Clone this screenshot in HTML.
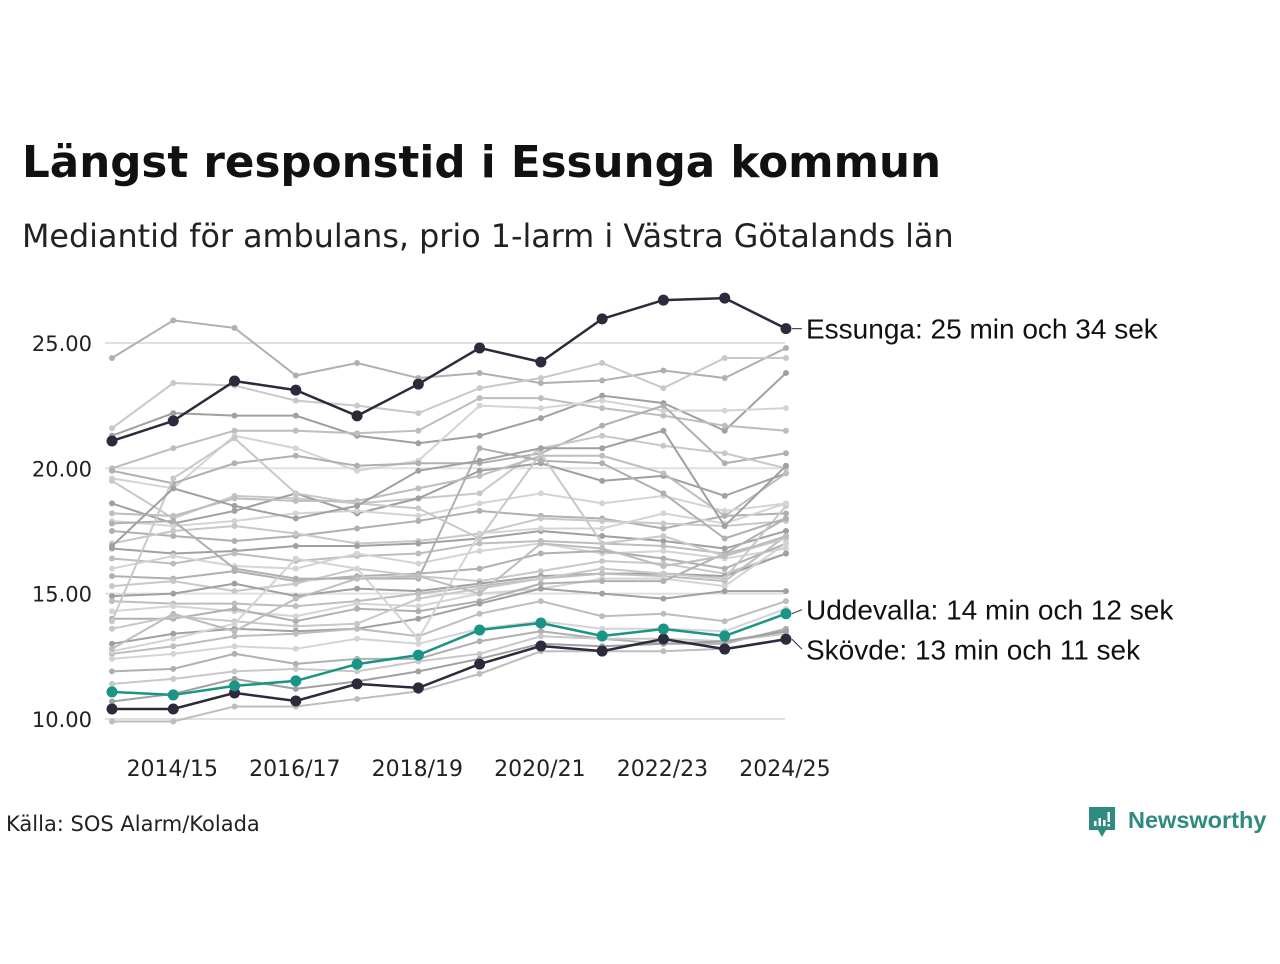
<!DOCTYPE html>
<html><head><meta charset="utf-8"><style>
body{margin:0;width:1280px;height:960px;background:#fff;font-family:"DejaVu Sans","Liberation Sans",sans-serif;overflow:hidden}
</style></head><body>
<svg id="c" width="1280" height="960" xmlns="http://www.w3.org/2000/svg">
<text x="22" y="177" font-size="43.6" font-weight="bold" fill="#111" font-family="DejaVu Sans, Liberation Sans, sans-serif">Längst responstid i Essunga kommun</text>
<text x="22" y="247" font-size="31.8" fill="#222" font-family="DejaVu Sans, Liberation Sans, sans-serif">Mediantid för ambulans, prio 1-larm i Västra Götalands län</text>
<g id="grid"></g><g id="grey"></g><g id="hl"></g><g id="ax"></g>
<text x="6" y="831" font-size="21" fill="#222">Källa: SOS Alarm/Kolada</text>
<g>
<path d="M1089 807h26v23h-9l-4 7l-4-7h-9z" fill="#2e8b7f"/>
<rect x="1094" y="821" width="2.5" height="5" fill="#fff"/><rect x="1098.5" y="818" width="2.5" height="8" fill="#fff"/><rect x="1103" y="820" width="2.5" height="6" fill="#fff"/><rect x="1107.5" y="812" width="2.5" height="10" fill="#fff"/><rect x="1107.5" y="824" width="2.5" height="2.5" fill="#fff"/>
<text x="1128" y="828" font-size="23.5" font-weight="bold" fill="#2e8b7f" font-family="Liberation Sans, sans-serif">Newsworthy</text>
</g>
</svg>
<script>
const categories=["2013/14","2014/15","2015/16","2016/17","2017/18","2018/19","2019/20","2020/21","2021/22","2022/23","2023/24","2024/25"];
const yTicks=[10,15,20,25];
const essunga=[21.09,21.89,23.48,23.12,22.09,23.36,24.8,24.24,25.96,26.71,26.79,25.57];
const uddevalla=[11.08,10.96,11.32,11.52,12.19,12.55,13.55,13.83,13.31,13.59,13.31,14.2];
const skovde=[10.4,10.4,11.04,10.72,11.4,11.24,12.19,12.91,12.71,13.19,12.79,13.18];
const others=[
[24.4,25.9,25.6,23.7,24.2,23.6,23.8,23.4,23.5,23.9,23.6,24.8],
[21.6,23.4,23.3,22.7,22.5,22.2,23.2,23.6,24.2,23.2,24.4,24.4],
[21.3,22.2,22.1,22.1,21.3,21.0,21.3,22.0,22.9,22.6,21.5,23.8],
[20.0,20.8,21.5,21.5,21.4,21.5,22.8,22.8,22.4,22.1,21.7,21.5],
[19.6,19.2,21.3,20.8,19.9,20.3,22.5,22.4,22.7,22.3,22.3,22.4],
[19.9,19.4,20.2,20.5,20.1,20.2,20.2,20.6,21.7,22.5,20.2,20.6],
[19.5,18.0,18.9,18.8,18.6,18.8,19.0,20.8,21.3,20.9,20.6,20.0],
[18.6,17.8,18.3,19.0,18.2,18.8,19.9,20.2,19.5,19.7,18.9,19.8],
[18.2,18.1,18.8,18.7,18.7,19.2,19.7,20.5,20.5,19.8,18.1,19.8],
[17.9,17.7,17.9,18.2,18.3,18.1,18.6,19.0,18.6,18.9,18.3,18.6],
[17.5,17.3,17.1,17.3,17.6,17.9,18.3,18.1,18.0,17.6,18.1,18.2],
[17.0,17.5,17.7,17.4,17.0,17.1,17.4,18.0,17.9,17.8,17.7,17.9],
[16.8,16.6,16.7,16.9,16.9,17.0,17.2,17.5,17.3,17.1,16.8,17.5],
[16.4,16.2,16.6,16.3,16.5,16.6,17.0,17.1,17.0,16.9,16.6,17.2],
[16.0,16.5,16.1,16.0,16.6,16.2,16.7,17.0,16.6,16.7,16.4,16.8],
[15.7,15.6,15.9,15.5,15.7,15.8,16.0,16.6,16.7,16.4,16.0,17.0],
[15.3,15.5,15.1,15.4,16.0,15.7,15.5,15.9,16.3,16.2,15.8,16.6],
[14.9,15.0,15.4,14.9,15.2,15.1,15.4,15.7,15.8,15.8,15.7,16.6],
[14.7,14.6,14.6,14.5,14.7,15.0,15.3,15.6,15.8,15.7,15.5,17.3],
[14.3,14.5,14.3,14.1,14.6,14.5,15.0,15.2,15.6,15.6,15.3,17.0],
[14.0,14.0,14.4,13.9,14.4,14.3,14.7,15.4,15.5,15.5,16.6,18.0],
[13.6,14.1,13.9,13.7,13.8,14.8,15.2,15.6,16.0,15.8,15.6,18.5],
[13.0,13.4,13.6,13.5,13.6,14.0,14.6,15.2,15.0,14.8,15.1,15.1],
[12.6,12.9,13.3,13.4,13.6,13.3,14.2,14.7,14.1,14.2,13.9,14.7],
[12.4,12.6,12.9,12.8,13.2,13.0,13.6,13.9,13.6,13.6,13.5,14.4],
[11.9,12.0,12.6,12.2,12.4,12.4,13.1,13.5,13.2,13.0,13.0,13.6],
[11.4,11.6,11.9,12.0,11.9,12.3,12.6,13.3,13.2,13.2,13.1,13.4],
[10.7,11.0,11.6,11.2,11.5,11.9,12.4,13.0,12.9,13.0,13.1,13.5],
[9.9,9.9,10.5,10.5,10.8,11.1,11.8,12.7,12.7,12.7,12.8,13.2],
[12.7,13.2,13.8,16.4,16.0,13.2,17.4,17.6,17.6,18.2,17.8,18.6],
[17.8,17.9,16.0,15.6,15.6,15.6,20.8,20.3,20.2,19.0,17.2,18.0],
[13.9,19.6,21.2,19.0,18.6,18.4,17.2,20.6,17.0,17.3,16.5,17.2],
[16.9,19.2,18.5,18.0,18.5,19.9,20.3,20.8,20.8,21.5,17.7,20.1],
[12.8,14.2,13.5,14.8,15.6,15.7,15.0,17.0,16.8,16.1,16.5,17.3]
];
const NS="http://www.w3.org/2000/svg";
const x=i=>112+i*61.27;
const y=v=>719-(v-10)*25.07;
function mk(t,a,p){const e=document.createElementNS(NS,t);for(const k in a)e.setAttribute(k,a[k]);p.appendChild(e);return e;}
const grid=document.getElementById('grid'),ax=document.getElementById('ax');
yTicks.forEach(t=>{
 const l=mk('line',{x1:105,x2:785,y1:y(t),y2:y(t),stroke:'#e0e0e0','stroke-width':2},grid);
 
 
 const tx=mk('text',{x:92,y:y(t)+8,'font-size':21,fill:'#222','text-anchor':'end'},ax);
 tx.textContent=t.toFixed(2);
 
 
});
categories.forEach((c,i)=>{ if(i%2===1){
 const tx=mk('text',{x:x(i)-1,y:776,'font-size':22,fill:'#222','text-anchor':'middle'},ax);
 tx.textContent=c;
 
 
}});
const greys=['#b0b0b0','#c8c8c8','#a0a0a0','#bdbdbd','#d4d4d4'];
function series(vals,col,w,r,parent,name){
 const g=mk('g',{},parent);
 
 
 mk('polyline',{points:vals.map((v,i)=>x(i)+','+y(v)).join(' '),fill:'none',stroke:col,'stroke-width':w},g);
 vals.forEach((v,i)=>{const c=mk('circle',{cx:x(i),cy:y(v),r:r,fill:col},g);
  
  });
}
const gg=document.getElementById('grey'),hl=document.getElementById('hl');
others.forEach((s,k)=>series(s,greys[k%greys.length],2,3,gg,'municipality-line'));
series(skovde,'#2b2b3b',2.5,5.5,hl,'skovde-line');
series(uddevalla,'#1a9484',2.5,5.5,hl,'uddevalla-line');
series(essunga,'#2b2b3b',2.5,5.5,hl,'essunga-line');
const labels=[[essunga,'Essunga: 25 min och 34 sek',0],[uddevalla,'Uddevalla: 14 min och 12 sek',-4],[skovde,'Skövde: 13 min och 11 sek',10]];
labels.forEach(([s,t,dy])=>{
 const yy=y(s[11]);
 mk('line',{x1:x(11)+6,x2:802,y1:yy,y2:yy+dy,stroke:'#2b2b3b','stroke-width':1},ax);
 const tx=mk('text',{x:806,y:yy+dy+10,'font-size':28,fill:'#111','font-family':'Liberation Sans, sans-serif'},ax);
 tx.textContent=t;
 
 
});
</script>
</body></html>
